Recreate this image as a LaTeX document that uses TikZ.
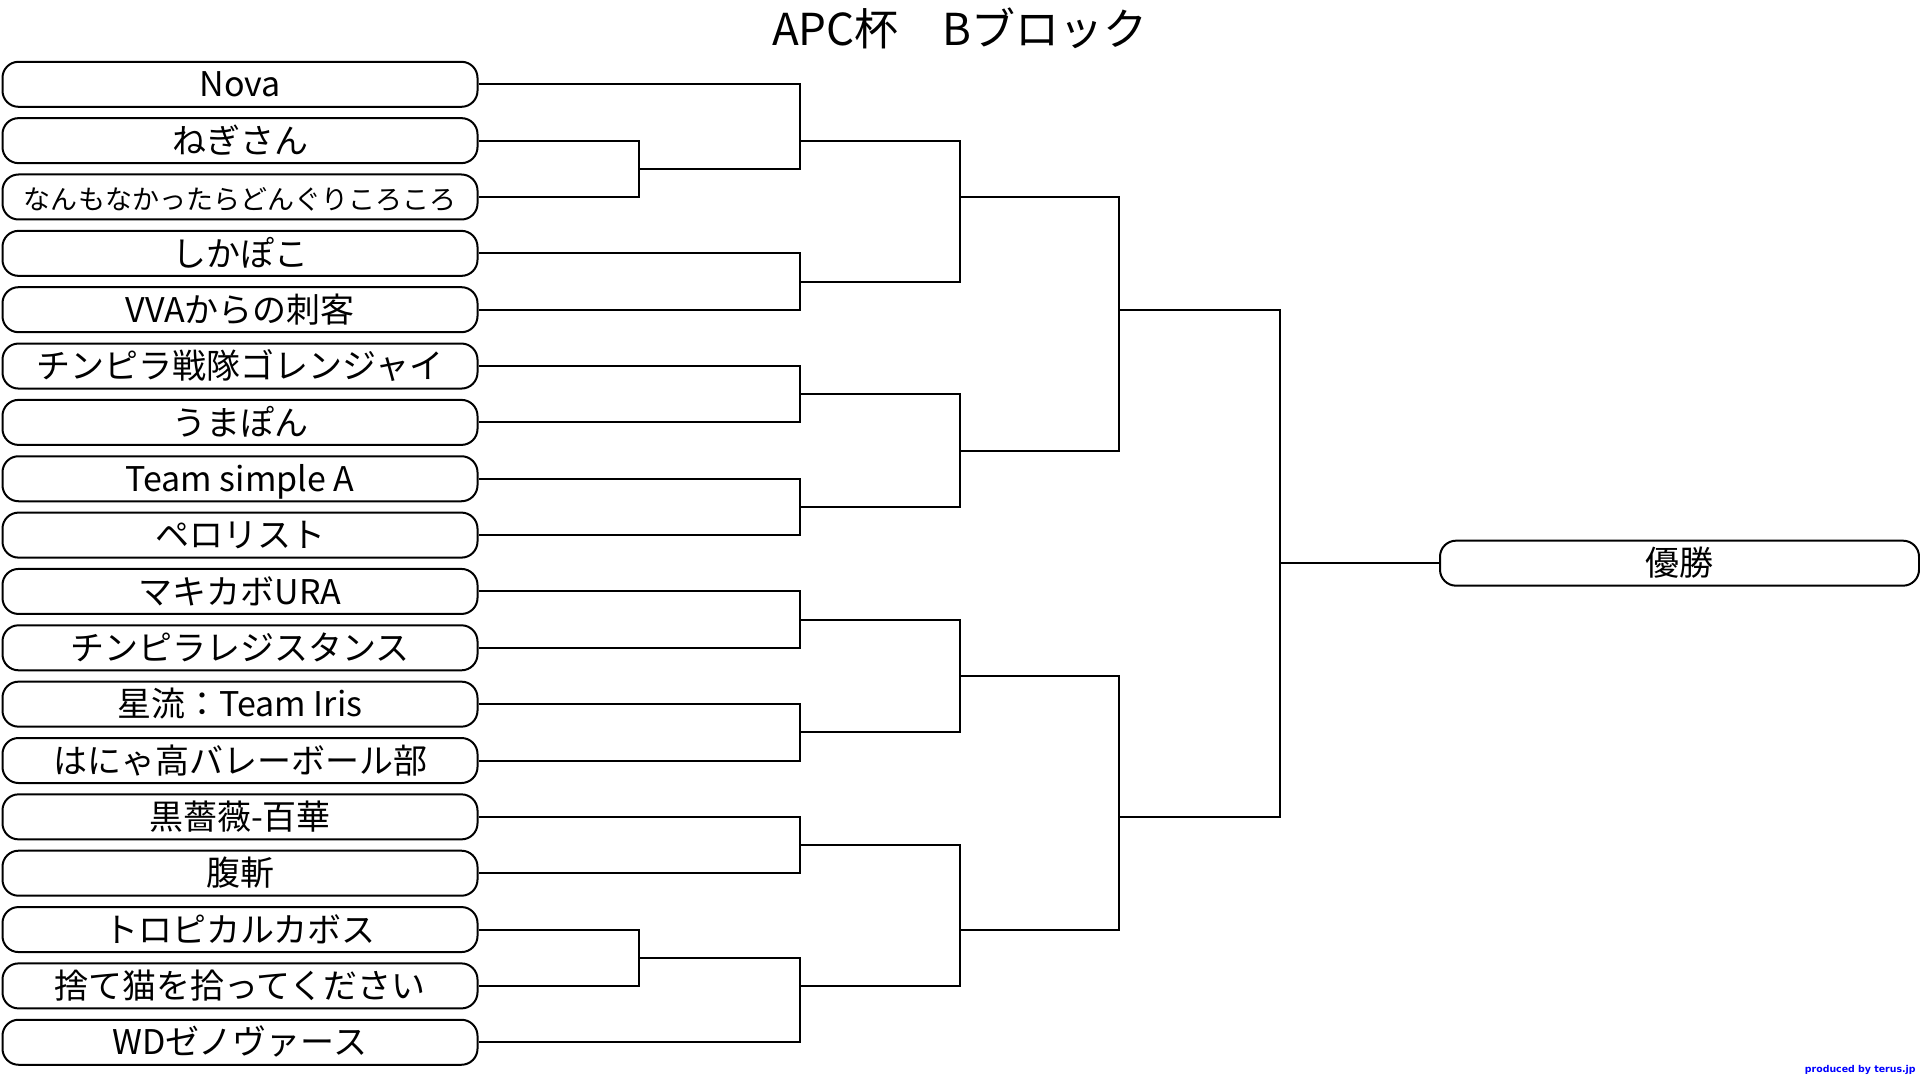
\documentclass[tikz,border=0pt]{standalone}
\usepackage{fontspec}
\newfontfamily\jp{Noto Sans CJK JP}
\newfontfamily\credfont{DejaVu Sans}
\begin{document}
\begin{tikzpicture}[x=0.5pt,y=-0.5pt,
  team/.style={draw, line width=1pt, rounded corners=8pt, minimum width=237.5pt,
    minimum height=22.5pt, inner sep=0pt, text height=1.27em, text depth=0em,
    font=\jp\fontsize{17pt}{17pt}\selectfont},
  small/.style={font=\jp\fontsize{13.5pt}{13.5pt}\selectfont},
  link/.style={line width=1pt},
]
\useasboundingbox (0,0) rectangle (1920,1080);

\node[anchor=base, font=\jp\fontsize{22pt}{22pt}\selectfont] (title) at (960,46) {APC杯　Bブロック};

\node[team] (t0) at (240,84.3) {Nova};
\node[team] (t1) at (240,140.65) {ねぎさん};
\node[team, small] (t2) at (240,197.0) {なんもなかったらどんぐりころころ};
\node[team] (t3) at (240,253.35) {しかぽこ};
\node[team] (t4) at (240,309.7) {VVAからの刺客};
\node[team] (t5) at (240,366.05) {チンピラ戦隊ゴレンジャイ};
\node[team] (t6) at (240,422.4) {うまぽん};
\node[team] (t7) at (240,478.75) {Team simple A};
\node[team] (t8) at (240,535.1) {ペロリスト};
\node[team] (t9) at (240,591.45) {マキカボURA};
\node[team] (t10) at (240,647.8) {チンピラレジスタンス};
\node[team] (t11) at (240,704.15) {星流：Team Iris};
\node[team] (t12) at (240,760.5) {はにゃ高バレーボール部};
\node[team] (t13) at (240,816.85) {黒薔薇-百華};
\node[team] (t14) at (240,873.2) {腹斬};
\node[team] (t15) at (240,929.55) {トロピカルカボス};
\node[team] (t16) at (240,985.9) {捨て猫を拾ってください};
\node[team] (t17) at (240,1042.25) {WDゼノヴァース};

\node[team, minimum width=239.5pt] (win) at (1679.5,563.18) {優勝};

\coordinate (j12) at (639,168.83);
\coordinate (j1516) at (639,957.73);
\coordinate (jA) at (800,140.65);
\coordinate (jB) at (800,281.53);
\coordinate (jC) at (800,394.23);
\coordinate (jD) at (800,506.93);
\coordinate (jE) at (800,619.63);
\coordinate (jF) at (800,732.33);
\coordinate (jG) at (800,845.03);
\coordinate (jH) at (800,985.9);
\coordinate (jAB) at (960,197.0);
\coordinate (jCD) at (960,450.58);
\coordinate (jEF) at (960,675.98);
\coordinate (jGH) at (960,929.55);
\coordinate (jTop) at (1119,309.7);
\coordinate (jBot) at (1119,816.85);
\coordinate (jFin) at (1280,563.18);

\draw[link] (t1.east) -| (j12) |- (t2.east);
\draw[link] (t15.east) -| (j1516) |- (t16.east);
\draw[link] (t0.east) -| (jA) |- (j12);
\draw[link] (t3.east) -| (jB) |- (t4.east);
\draw[link] (t5.east) -| (jC) |- (t6.east);
\draw[link] (t7.east) -| (jD) |- (t8.east);
\draw[link] (t9.east) -| (jE) |- (t10.east);
\draw[link] (t11.east) -| (jF) |- (t12.east);
\draw[link] (t13.east) -| (jG) |- (t14.east);
\draw[link] (j1516) -| (jH) |- (t17.east);
\draw[link] (jA) -| (jAB) |- (jB);
\draw[link] (jC) -| (jCD) |- (jD);
\draw[link] (jE) -| (jEF) |- (jF);
\draw[link] (jG) -| (jGH) |- (jH);
\draw[link] (jAB) -| (jTop) |- (jCD);
\draw[link] (jEF) -| (jBot) |- (jGH);
\draw[link] (jTop) -| (jFin) |- (jBot);
\draw[link] (jFin) -- (win.west);

\node[anchor=base east, inner sep=0pt, text=blue,
  font=\credfont\bfseries\fontsize{4.7pt}{5pt}\selectfont] (cred) at (1916,1072) {produced by terus.jp};
\end{tikzpicture}
\end{document}
